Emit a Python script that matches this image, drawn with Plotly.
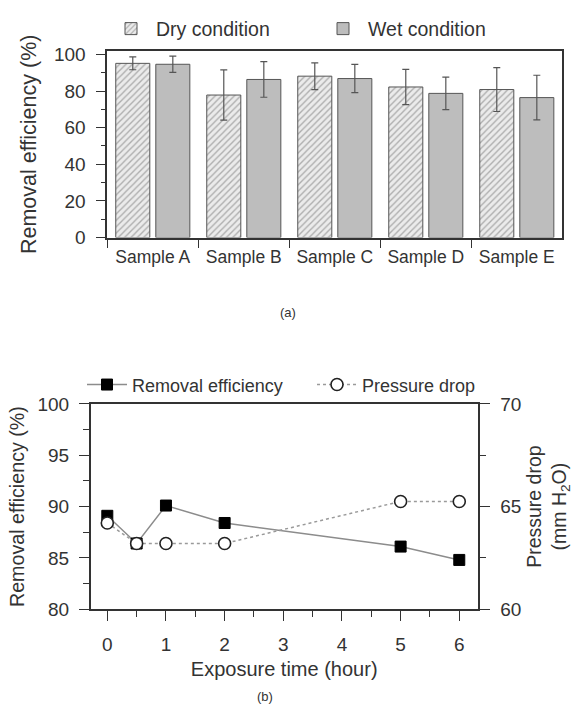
import plotly.graph_objects as go

# ---- data: panel (a)
samples = ["Sample A", "Sample B", "Sample C", "Sample D", "Sample E"]
dry_eff = [95.1, 77.8, 88.1, 82.2, 80.8]
dry_err = [3.5, 13.7, 7.3, 9.6, 12.0]
wet_eff = [94.6, 86.3, 86.8, 78.7, 76.4]
wet_err = [4.4, 9.7, 7.7, 8.9, 12.2]

# ---- data: panel (b)
hours = [0, 0.5, 1, 2, 5, 6]
removal_eff = [89.1, 86.4, 90.1, 88.4, 86.1, 84.8]
pressure_drop = [64.2, 63.2, 63.2, 63.2, 65.25, 65.25]

W, H = 573, 727
FONT = "Liberation Sans, Arial, sans-serif"
TXT = "#333333"
AX = "#333333"

def px_x(a, b):
    return [a / W, b / W]

def px_y(top, bottom):
    return [1 - bottom / H, 1 - top / H]

fig = go.Figure()

fig.add_trace(go.Bar(
    x=samples, y=dry_eff, name="Dry condition",
    error_y=dict(type="data", array=dry_err, color="#555555", thickness=1.2, width=3.5),
    marker=dict(color="#ebebeb", line=dict(color="#555555", width=1),
                pattern=dict(shape="/", fgcolor="#707070", bgcolor="#ebebeb", size=4.5, solidity=0.3)),
    xaxis="x", yaxis="y", legend="legend",
))
fig.add_trace(go.Bar(
    x=samples, y=wet_eff, name="Wet condition",
    error_y=dict(type="data", array=wet_err, color="#555555", thickness=1.2, width=3.5),
    marker=dict(color="#bdbdbd", line=dict(color="#555555", width=1)),
    xaxis="x", yaxis="y", legend="legend",
))

fig.add_trace(go.Scatter(
    x=hours, y=removal_eff, name="Removal efficiency", mode="lines+markers",
    line=dict(color="#8c8c8c", width=1.5),
    marker=dict(symbol="square", size=11, color="#000000", line=dict(color="#000000", width=1)),
    xaxis="x2", yaxis="y2", legend="legend2",
))
fig.add_trace(go.Scatter(
    x=hours, y=pressure_drop, name="Pressure drop", mode="lines+markers",
    line=dict(color="#9a9a9a", width=1.5, dash="dot"),
    marker=dict(symbol="circle", size=12, color="#ffffff", line=dict(color="#222222", width=1.6)),
    xaxis="x2", yaxis="y3", legend="legend2",
))

axis_common = dict(showline=True, linecolor=AX, linewidth=1.6, ticks="outside",
                   tickcolor=AX, tickwidth=1.3, showgrid=False, zeroline=False,
                   tickfont=dict(size=19, color=TXT, family=FONT))

fig.update_layout(
    width=W, height=H,
    margin=dict(l=0, r=0, t=0, b=0),
    paper_bgcolor="white", plot_bgcolor="white",
    font=dict(family=FONT, color=TXT, size=16),
    barmode="group", bargap=0.12, bargroupgap=0.15,
    showlegend=True,
    xaxis=dict(domain=px_x(107.3, 562.3), anchor="y", type="category", tickson="boundaries",
               ticklen=9, mirror=True, ticklabelstandoff=3,
               **{**axis_common, "tickfont": dict(size=17.5, color=TXT, family=FONT)}),
    yaxis=dict(domain=px_y(42.3, 234.3), anchor="x", range=[0, 101.8], dtick=20, tick0=0,
               ticklen=10, mirror=True, ticklabelstandoff=6,
               minor=dict(dtick=10, ticks="outside", ticklen=5, tickcolor=AX),
               title=dict(text="Removal efficiency (%)", font=dict(size=21.5, color=TXT), standoff=11),
               **axis_common),
    xaxis2=dict(domain=px_x(90.7, 477.7), anchor="y2", range=[-0.283, 6.314], dtick=1, tick0=0,
                ticklen=10, mirror=True, ticklabelstandoff=7,
                minor=dict(dtick=0.5, ticks="outside", ticklen=6, tickcolor=AX),
                title=dict(text="Exposure time (hour)", font=dict(size=20, color=TXT), standoff=8),
                **axis_common),
    yaxis2=dict(domain=px_y(405.7, 617), anchor="x2", range=[80, 100], dtick=5, tick0=80,
                ticklen=10, ticklabelstandoff=6,
                minor=dict(dtick=2.5, ticks="outside", ticklen=6, tickcolor=AX),
                title=dict(text="Removal efficiency (%)", font=dict(size=19.7, color=TXT), standoff=8),
                **axis_common),
    yaxis3=dict(overlaying="y2", anchor="x2", side="right", range=[60, 70], dtick=5, tick0=60,
                ticklen=10, ticklabelstandoff=7,
                minor=dict(dtick=2.5, ticks="outside", ticklen=6, tickcolor=AX),
                title=dict(text="Pressure drop<br>(mm H<sub>2</sub>O)", font=dict(size=19.5, color=TXT), standoff=7),
                **axis_common),
    legend=dict(orientation="h", x=106 / W, y=1 - 19.5 / H, xanchor="left", yanchor="middle",
                entrywidth=157, entrywidthmode="pixels", itemwidth=40,
                font=dict(size=19.5, color=TXT), bgcolor="rgba(0,0,0,0)"),
    legend2=dict(orientation="h", x=82 / W, y=1 - 386 / H, xanchor="left", yanchor="middle",
                 entrywidth=175, entrywidthmode="pixels", itemwidth=40,
                 font=dict(size=18, color=TXT), bgcolor="rgba(0,0,0,0)"),
    annotations=[
        dict(text="(a)", x=288 / W, y=1 - 312 / H, xref="paper", yref="paper",
             showarrow=False, font=dict(size=13, color=TXT)),
        dict(text="(b)", x=265 / W, y=1 - 717 / H, xref="paper", yref="paper",
             showarrow=False, font=dict(size=13, color=TXT)),
    ],
)

fig.write_html("out.html")
